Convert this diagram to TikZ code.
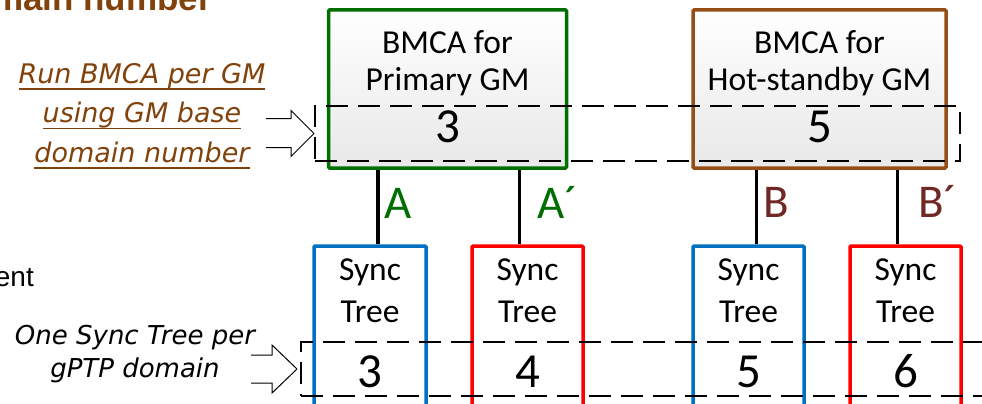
\documentclass[tikz,border=0pt]{standalone}
\usepackage{fontspec}
\setmainfont{Carlito}
\newfontfamily\notefont{DejaVu Sans}
\newfontfamily\headfont{Liberation Sans}
\newcommand{\undl}[1]{\setbox0\hbox{#1}\rlap{\rule[-6.5pt]{\wd0}{1.6pt}}\box0}
\definecolor{gmgreen}{RGB}{0,110,0}
\definecolor{gmbrown}{RGB}{150,78,22}
\definecolor{txtbrown}{RGB}{130,66,12}
\definecolor{lblbrown}{RGB}{112,40,36}
\definecolor{treeblue}{RGB}{0,112,192}
\definecolor{treered}{RGB}{255,0,0}

\begin{document}
\begin{tikzpicture}[x=1pt, y=-1pt,
box/.style  = {draw, line width=3.5pt, rounded corners=1pt, inner sep=0pt},
bmca/.style = {box, top color=white, bottom color=black!9,
               minimum width=238pt, minimum height=158pt},
tree/.style = {box, fill=white, minimum width=112pt, minimum height=175pt},
dom/.style  = {draw, line width=2pt, dash pattern=on 22pt off 10pt, inner sep=0pt},
txt/.style  = {anchor=base, inner sep=0pt, font=\fontsize{33.5}{38}\selectfont},
num/.style  = {anchor=base, inner sep=0pt, font=\fontsize{49}{54}\selectfont},
lbl/.style  = {anchor=base west, inner sep=0pt, font=\fontsize{47}{54}\selectfont},
note/.style = {align=center, inner sep=0pt, font=\notefont\itshape\fontsize{27}{39.5}\selectfont},
link/.style = {line width=3.5pt},
hollow/.style = {line width=1pt},
sx+/.style = {xshift= 8pt},
sx-/.style = {xshift=-8pt}
                        ]
\useasboundingbox (0,0) rectangle (982,404);
\clip (0,0) rectangle (982,404);
% cut-off slide texts
\node (title) [anchor=base east, inner sep=0pt, text=txtbrown,
    font=\headfont\bfseries\fontsize{35}{40}\selectfont] at (212,11) {main number};
\node (sub) [anchor=base east, inner sep=0pt,
    font=\headfont\fontsize{28}{32}\selectfont] at (34,286) {ent};
% BMCA boxes
\node (pgm) [bmca, draw=gmgreen]                      at (447.5,89) {};
\node (hgm) [bmca, draw=gmbrown, minimum width=253pt] at (819.5,89) {};
% sync trees
\node (st3) [tree, draw=treeblue]                     at (370,333.5)   {};
\node (st4) [tree, draw=treered, minimum width=111pt] at (527.5,333.5) {};
\node (st5) [tree, draw=treeblue, minimum width=111pt] at (748.5,333.5) {};
\node (st6) [tree, draw=treered, minimum width=111pt] at (905.5,333.5) {};
%
\draw[link] ([sx+] st3.north) -- ([sx+] st3.north |- pgm.south);
\draw[link] ([sx-] st4.north) -- ([sx-] st4.north |- pgm.south);
\draw[link] ([sx+] st5.north) -- ([sx+] st5.north |- hgm.south);
\draw[link] ([sx-] st6.north) -- ([sx-] st6.north |- hgm.south);
% domain frames
\node (gmdom)  [dom, minimum width=645pt, minimum height=55pt] at (637.5,133.5) {};
\node (ptpdom) [dom, minimum width=699pt, minimum height=54pt] at (650.5,369) {};
\draw[hollow] (gmdom.west) -- ++(-23,-23) -- ++(0,8) -- ++(-25,0);
\draw[hollow] (gmdom.west) -- ++(-23,23) -- ++(0,-9) -- ++(-25,0);
\draw[hollow] ([xshift=-3pt] ptpdom.west) -- ++(-25,-24) -- ++(0,10) -- ++(-21,0);
\draw[hollow] ([xshift=-3pt] ptpdom.west) -- ++(-25,24) -- ++(0,-10) -- ++(-21,0);
% texts
\node (pgm1) [txt] at (447.5,53) {BMCA for};
\node (pgm2) [txt] at (447.5,90) {Primary GM};
\node (pgmn) [num] at (447.5,142) {3};
\node (hgm1) [txt] at (819.5,53) {BMCA for};
\node (hgm2) [txt] at (819.5,90) {Hot-standby GM};
\node (hgmn) [num] at (819.5,142) {5};
\foreach \t/\n in {st3/3, st4/4, st5/5, st6/6} {
  \node (\t a) [txt] at (\t.north |- 0,280) {Sync};
  \node (\t b) [txt] at (\t.north |- 0,322) {Tree};
  \node (\t n) [num] at (\t.north |- 0,387) {\n};
}
\node (la)  [lbl, text=gmgreen]  at (384,218) {A};
\node (la') [lbl, text=gmgreen]  at (537,218) {A´};
\node (lb)  [lbl, text=lblbrown] at (763,217) {B};
\node (lb') [lbl, text=lblbrown] at (918,217) {B´};
% notes
\node (bmnote)  [note, text=txtbrown] at (142,116)
    {\undl{Run BMCA per GM}\\\undl{using GM base}\\\undl{domain number}};
\node (ptpnote) [note, font=\notefont\itshape\fontsize{26}{33}\selectfont] at (135,354)
    {One Sync Tree per\\gPTP domain};
    \end{tikzpicture}
\end{document}
